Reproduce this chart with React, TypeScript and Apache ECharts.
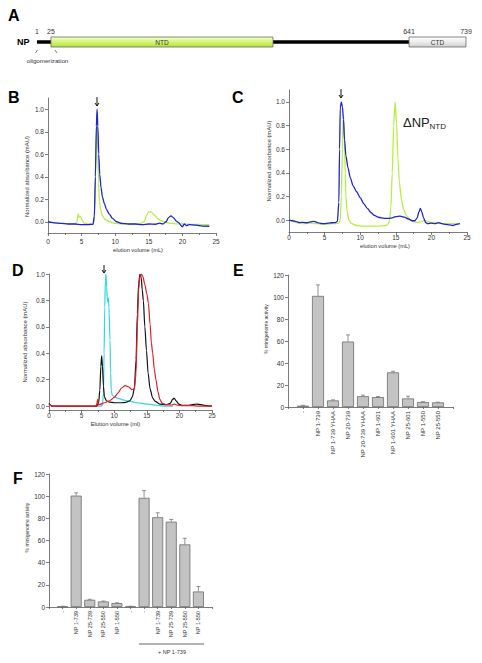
import React, { useEffect, useRef } from 'react';
import * as echarts from 'echarts';

const FONT = "'Liberation Sans', Arial, Helvetica, sans-serif";
const AXIS_COLOR = '#5a5a5a';
const LABEL_COLOR = '#333333';
const BLUE = '#1f22d8';
const GREEN = '#b6ef3e';
const CYAN = '#2fd8e2';
const RED = '#e31c26';
const BLACK = '#111111';
const BAR_FILL = '#c3c3c3';
const BAR_EDGE = '#6c6c6c';

// ---------- Panel A : NP domain map ----------
const npResidueTicks = [1, 25, 641, 739];
const npBackbone = [[1, 0.5], [641, 0.5]];
const npDomainNames = ['NTD', 'CTD'];
const npDomainStart = [25, 641];
const npDomainEnd = [407, 739];

// ---------- Panel B ----------
const bBlue = [[0,0.0],[0.5,-0.005],[1,-0.01],[2,-0.015],[3,-0.02],[4,-0.02],[5,-0.025],[6,-0.025],[6.7,-0.022],[6.9,0.05],[7.05,0.4],[7.2,0.85],[7.3,1.0],[7.42,0.85],[7.55,0.6],[7.7,0.42],[7.9,0.3],[8.1,0.22],[8.4,0.16],[8.7,0.11],[9.1,0.07],[9.6,0.03],[10.2,0.0],[11,-0.015],[12,-0.02],[13,-0.02],[14,-0.025],[15,-0.02],[16,-0.022],[16.6,-0.012],[17.1,-0.02],[17.6,0.0],[17.9,0.035],[18.3,0.052],[18.7,0.035],[19.1,0.005],[19.5,-0.01],[19.8,-0.035],[20.0,-0.045],[20.3,-0.02],[20.6,-0.035],[21,-0.025],[22,-0.03],[23,-0.038],[24,-0.04]];
const bGreen = [[0,0.0],[1,-0.01],[2,-0.015],[3,-0.018],[4,-0.02],[4.3,-0.005],[4.5,0.07],[4.65,0.04],[4.85,0.045],[5.1,0.01],[5.4,-0.015],[6,-0.02],[6.8,-0.02],[6.95,0.1],[7.1,0.5],[7.22,0.88],[7.32,0.93],[7.42,0.6],[7.52,0.35],[7.65,0.18],[7.85,0.1],[8.1,0.05],[8.5,0.02],[9.2,0.0],[10,-0.015],[11,-0.02],[12,-0.02],[13,-0.02],[13.8,-0.015],[14.3,0.0],[14.7,0.06],[15.0,0.09],[15.4,0.085],[15.8,0.06],[16.3,0.03],[16.8,0.01],[17.3,0.0],[18,-0.012],[19,-0.018],[20,-0.02],[21,-0.022],[22,-0.024],[23,-0.025],[24,-0.025]];

// ---------- Panel C ----------
const cBlue = [[0,0.0],[0.5,-0.005],[1,-0.012],[1.5,-0.02],[2,-0.018],[2.5,-0.022],[3,-0.015],[3.5,-0.01],[4,-0.02],[4.5,-0.028],[5,-0.03],[5.5,-0.025],[6,-0.022],[6.5,-0.02],[6.8,-0.01],[7.0,0.15],[7.1,0.6],[7.2,0.95],[7.35,1.0],[7.5,0.96],[7.65,0.85],[7.8,0.68],[8.0,0.54],[8.3,0.44],[8.6,0.36],[9.0,0.29],[9.5,0.24],[10,0.19],[10.5,0.14],[11,0.1],[11.5,0.065],[12,0.04],[12.5,0.025],[13,0.02],[13.5,0.015],[14,0.015],[14.5,0.02],[15,0.03],[15.6,0.035],[16.2,0.025],[16.8,0.01],[17.3,-0.005],[17.7,-0.005],[18.0,0.02],[18.25,0.07],[18.45,0.1],[18.65,0.07],[18.9,0.02],[19.2,-0.02],[19.5,-0.03],[20,-0.025],[20.5,-0.03],[21,-0.02],[21.5,-0.03],[22,-0.035],[22.5,-0.04],[23,-0.045],[23.5,-0.035],[24,-0.03]];
const cGreen = [[0,0.0],[0.5,-0.01],[1,-0.02],[1.5,-0.025],[2,-0.03],[3,-0.025],[3.5,-0.03],[4,-0.03],[5,-0.035],[6,-0.03],[6.5,-0.03],[7.0,-0.025],[7.2,0.0],[7.35,0.2],[7.5,0.6],[7.6,0.85],[7.7,0.88],[7.8,0.65],[7.9,0.4],[8.0,0.2],[8.15,0.08],[8.4,0.0],[8.8,-0.03],[9.5,-0.045],[10.5,-0.05],[11.5,-0.05],[12.5,-0.05],[13.3,-0.048],[13.8,-0.04],[14.1,-0.01],[14.3,0.1],[14.5,0.4],[14.7,0.8],[14.9,1.0],[15.1,0.82],[15.3,0.52],[15.5,0.32],[15.8,0.17],[16.1,0.09],[16.5,0.04],[17,0.0],[17.5,-0.015],[18,-0.02],[18.5,-0.015],[19,0.0],[19.5,-0.01],[20,-0.02],[21,-0.025],[22,-0.03],[23,-0.03],[24,-0.03]];

// ---------- Panel D ----------
const dCyan = [[7.0,0.0],[8.0,0.0],[8.2,0.01],[8.35,0.1],[8.45,0.4],[8.55,0.75],[8.65,0.95],[8.74,1.0],[8.84,0.9],[8.94,0.8],[9.02,0.79],[9.1,0.82],[9.2,0.75],[9.35,0.5],[9.45,0.25],[9.55,0.12],[9.7,0.08],[10.5,0.06],[11.5,0.045],[12.5,0.035],[13.5,0.025],[14.5,0.018],[15.5,0.012],[16.5,0.006],[17.5,0.0],[19,0.0]];
const dBlack = [[0,0.02],[0.15,0.01],[0.4,0.0],[3,0.0],[7.3,0.0],[7.6,0.02],[7.8,0.12],[7.95,0.3],[8.08,0.38],[8.2,0.3],[8.35,0.15],[8.5,0.07],[8.8,0.04],[9.3,0.03],[10,0.025],[11,0.025],[11.8,0.028],[12.4,0.04],[12.8,0.07],[13.1,0.14],[13.35,0.35],[13.55,0.7],[13.75,0.93],[13.95,1.0],[14.15,0.97],[14.3,0.88],[14.47,0.8],[14.7,0.6],[14.95,0.42],[15.2,0.25],[15.5,0.13],[15.9,0.06],[16.3,0.035],[17,0.015],[18,0.01],[18.6,0.02],[18.95,0.05],[19.2,0.06],[19.5,0.04],[19.9,0.015],[20.5,0.005],[21.5,0.005],[22.2,0.012],[22.7,0.015],[23.3,0.01],[24,0.003],[25,0.0]];
const dRed = [[0,0.015],[0.2,0.005],[0.5,0.0],[7.2,0.0],[7.35,0.02],[7.45,0.05],[7.55,0.01],[7.8,0.012],[8.5,0.025],[9.3,0.04],[10,0.065],[10.6,0.1],[11.1,0.135],[11.7,0.155],[12.2,0.145],[12.7,0.125],[13.1,0.13],[13.35,0.25],[13.55,0.6],[13.75,0.88],[13.95,0.98],[14.15,1.0],[14.4,0.98],[14.7,0.92],[15.0,0.85],[15.25,0.78],[15.5,0.62],[15.7,0.48],[15.9,0.4],[16.15,0.28],[16.4,0.2],[16.7,0.11],[17.0,0.05],[17.4,0.02],[18,0.01],[18.8,0.008],[19.2,0.015],[19.6,0.008],[20.5,0.003],[22,0.003],[23,0.0],[25,0.0]];

// ---------- Panel E ----------
const eLabels = ['-', 'NP 1-739', 'NP 1-739 YHAA', 'NP 20-739', 'NP 20-739 YHAA', 'NP 1-601', 'NP 1-601 YHAA', 'NP 25-601', 'NP 1-550', 'NP 25-550'];
const eValues = [1.2, 101, 6, 59.5, 9.8, 9, 31.5, 7.8, 4.5, 4.2];
const eErrors = [0.3, 10, 0.5, 6, 1, 0.5, 1, 2, 0.3, 0.2];

// ---------- Panel F ----------
const fLabels = ['-', 'NP 1-739', 'NP 25-739', 'NP 25-550', 'NP 1-550', '-', '-', 'NP 1-739', 'NP 25-739', 'NP 25-550', 'NP 1-550'];
const fValues = [0.5, 100.5, 6.5, 5, 3.5, 0.5, 98.5, 81, 77, 56.5, 14];
const fErrors = [0.2, 2.5, 0.4, 0.4, 0.3, 0.2, 6.5, 4, 2, 5.5, 4.5];
const fGroupLabel = '+ NP 1-739';

const absTicks = [0, 0.2, 0.4, 0.6, 0.8, 1.0];

const axisLine = { show: true, onZero: false, lineStyle: { color: AXIS_COLOR, width: 0.8 } };
const axisTick = (len: number) => ({ show: true, length: len, lineStyle: { color: AXIS_COLOR, width: 0.8 } });

function elutionX(grid: number, name: string, margin: number, nameGap: number, pad: number[], fs: number) {
  return {
    gridIndex: grid, type: 'value', min: 0, max: 25, interval: 5,
    axisLine, axisTick: axisTick(3),
    minorTick: { show: true, splitNumber: 2, length: 2, lineStyle: { color: AXIS_COLOR, width: 0.8 } },
    axisLabel: { fontSize: 6.5, color: LABEL_COLOR, margin, fontFamily: FONT },
    splitLine: { show: false },
    name, nameLocation: 'middle', nameGap,
    nameTextStyle: { fontSize: fs, color: LABEL_COLOR, fontFamily: FONT, padding: pad },
  };
}

function absY(grid: number, min: number, max: number, nameGap: number, pad: number[]) {
  return {
    gridIndex: grid, type: 'value', min, max,
    axisLine, axisTick: { ...axisTick(3), customValues: absTicks },
    axisLabel: { customValues: absTicks, formatter: (v: number) => v.toFixed(1), fontSize: 6.5, color: LABEL_COLOR, margin: 4, fontFamily: FONT },
    splitLine: { show: false },
    name: 'Normalized absorbance (mAU)', nameLocation: 'middle', nameGap,
    nameTextStyle: { fontSize: 5.9, color: LABEL_COLOR, fontFamily: FONT, padding: pad },
  };
}

function activityY(grid: number, pad: number[]) {
  return {
    gridIndex: grid, type: 'value', min: 0, max: 120, interval: 20,
    axisLine, axisTick: axisTick(3),
    axisLabel: { fontSize: 6.5, color: LABEL_COLOR, margin: 4, fontFamily: FONT },
    splitLine: { show: false },
    name: '% minigenome activity', nameLocation: 'middle', nameGap: 20,
    nameTextStyle: { fontSize: 5, color: LABEL_COLOR, fontFamily: FONT, padding: pad },
  };
}

function categoryX(grid: number, labels: string[], fs: number) {
  const data = ['', ...labels, ''].map((_, i) => 'c' + i);
  return {
    gridIndex: grid, type: 'category', data, boundaryGap: false,
    axisLine, axisTick: { ...axisTick(2), interval: 0 },
    axisLabel: {
      interval: 0, rotate: 90, fontSize: fs, color: LABEL_COLOR, margin: 4, fontFamily: FONT,
      formatter: (_v: string, i: number) => (i >= 1 && i <= labels.length ? labels[i - 1] : ''),
    },
    splitLine: { show: false },
  };
}

function errorSeries(xi: number, values: number[], errors: number[]) {
  return {
    type: 'custom', xAxisIndex: xi, yAxisIndex: xi, z: 5,
    data: values.map((v, i) => [i + 1, v, v + errors[i]]),
    renderItem: (_p: any, api: any) => {
      const base = api.coord([api.value(0), api.value(1)]);
      const top = api.coord([api.value(0), api.value(2)]);
      const st = { stroke: '#777777', lineWidth: 0.8 };
      return {
        type: 'group',
        children: [
          { type: 'line', shape: { x1: base[0], y1: base[1], x2: base[0], y2: top[1] }, style: st },
          { type: 'line', shape: { x1: base[0] - 2, y1: top[1], x2: base[0] + 2, y2: top[1] }, style: st },
        ],
      };
    },
  };
}

function barSeries(xi: number, values: number[], width: number) {
  return {
    type: 'bar', xAxisIndex: xi, yAxisIndex: xi, barWidth: width,
    data: values.map((v, i) => [i + 1, v]),
    itemStyle: { color: BAR_FILL, borderColor: BAR_EDGE, borderWidth: 0.8 },
  };
}

function curve(xi: number, data: number[][], color: string, width: number) {
  return {
    type: 'line', xAxisIndex: xi, yAxisIndex: xi, data, showSymbol: false, symbol: 'none',
    smooth: 0.25, smoothMonotone: 'x',
    lineStyle: { color, width },
  };
}

function arrow(x: number, y1: number, y2: number) {
  const st = { stroke: '#111', lineWidth: 1 };
  return {
    type: 'group',
    children: [
      { type: 'line', shape: { x1: x, y1, x2: x, y2 }, style: st },
      { type: 'polyline', shape: { points: [[x - 2, y2 - 3], [x, y2], [x + 2, y2 - 3]] }, style: { ...st, fill: 'none' } },
    ],
  };
}

function panelLetter(t: string, x: number, y: number) {
  return { type: 'text', x, y, style: { text: t, fontSize: 16, fontWeight: 'bold', fill: '#000', fontFamily: FONT, verticalAlign: 'top' } };
}

function buildOption(): any {
  const grids = [
    { left: 37, top: 37, width: 429, height: 10 },
    { left: 48, top: 98, width: 168, height: 135 },
    { left: 289, top: 90, width: 178, height: 142 },
    { left: 49, top: 274, width: 163, height: 136 },
    { left: 288, top: 275, width: 165, height: 132 },
    { left: 49, top: 474, width: 163, height: 133 },
  ].map((g) => ({ ...g, containLabel: false, outerBoundsMode: 'none' }));

  const xAxis = [
    {
      gridIndex: 0, type: 'value', min: 1, max: 739, position: 'top',
      axisLine: { show: false }, axisTick: { show: false }, splitLine: { show: false },
      axisLabel: { customValues: npResidueTicks, fontSize: 7, color: LABEL_COLOR, margin: 2, fontFamily: FONT, showMinLabel: true, showMaxLabel: true },
    },
    elutionX(1, 'elution volume (mL)', 5, 14, [0, 0, 0, 12], 5.7),
    elutionX(2, 'elution volume (mL)', 2, 11, [0, 0, 0, 14], 5.7),
    elutionX(3, 'Elution volume (ml)', 2, 11, [0, 30, 0, 0], 5.8),
    categoryX(4, eLabels, 6),
    categoryX(5, fLabels, 5.5),
  ];

  const yAxis = [
    { gridIndex: 0, type: 'value', min: 0, max: 1, show: false },
    absY(1, -0.1, 1.1, 18, [0, 22, 0, 0]),
    absY(2, -0.1, 1.1, 17, [0, 0, 0, 0]),
    absY(3, -0.03, 1.0, 21, [0, 0, 0, 0]),
    activityY(4, [0, 0, 0, 24]),
    activityY(5, [0, 0, 0, 26]),
  ];

  const domainFill = [
    new echarts.graphic.LinearGradient(0, 0, 0, 1, [
      { offset: 0, color: '#f4ffd6' }, { offset: 0.45, color: '#d6f77a' }, { offset: 1, color: '#b2e23a' },
    ]),
    new echarts.graphic.LinearGradient(0, 0, 0, 1, [
      { offset: 0, color: '#ffffff' }, { offset: 0.5, color: '#ececec' }, { offset: 1, color: '#cfcfcf' },
    ]),
  ];

  const series: any[] = [
    {
      type: 'line', xAxisIndex: 0, yAxisIndex: 0, data: npBackbone, showSymbol: false, symbol: 'none',
      lineStyle: { color: '#000', width: 3.3 }, z: 1,
    },
    {
      type: 'custom', xAxisIndex: 0, yAxisIndex: 0, z: 3,
      data: npDomainStart.map((s, i) => [s, npDomainEnd[i]]),
      renderItem: (params: any, api: any) => {
        const i = params.dataIndex;
        const a = api.coord([api.value(0), 1]);
        const b = api.coord([api.value(1), 0]);
        return {
          type: 'group',
          children: [
            { type: 'rect', shape: { x: a[0], y: a[1], width: b[0] - a[0], height: b[1] - a[1] },
              style: { fill: domainFill[i], stroke: '#6a6a6a', lineWidth: 0.8 } },
            { type: 'text', x: (a[0] + b[0]) / 2, y: (a[1] + b[1]) / 2,
              style: { text: npDomainNames[i], fontSize: 6.5, fill: '#333', align: 'center', verticalAlign: 'middle', fontFamily: FONT } },
          ],
        };
      },
    },
    curve(1, bGreen, GREEN, 1.3),
    curve(1, bBlue, BLUE, 1.3),
    curve(2, cGreen, GREEN, 1.3),
    curve(2, cBlue, BLUE, 1.3),
    curve(3, dCyan, CYAN, 1.2),
    curve(3, dBlack, BLACK, 1.2),
    curve(3, dRed, RED, 1.2),
    barSeries(4, eValues, 12),
    errorSeries(4, eValues, eErrors),
    barSeries(5, fValues, 11),
    errorSeries(5, fValues, fErrors),
  ];

  const graphic: any[] = [
    panelLetter('A', 8, 7),
    panelLetter('B', 8, 89),
    panelLetter('C', 232, 89),
    panelLetter('D', 12, 262),
    panelLetter('E', 233, 262),
    panelLetter('F', 13, 470),
    { type: 'text', x: 17, y: 42, style: { text: 'NP', fontSize: 9, fontWeight: 'bold', fill: '#000', fontFamily: FONT, verticalAlign: 'middle' } },
    { type: 'line', shape: { x1: 37.5, y1: 50, x2: 35.5, y2: 53 }, style: { stroke: '#444', lineWidth: 0.7 } },
    { type: 'line', shape: { x1: 55, y1: 50, x2: 57, y2: 53 }, style: { stroke: '#444', lineWidth: 0.7 } },
    { type: 'text', x: 47.5, y: 60, style: { text: 'oligomerization', fontSize: 6.2, fill: '#333', align: 'center', verticalAlign: 'middle', fontFamily: FONT } },
    arrow(97, 97, 106),
    arrow(341, 89, 98),
    arrow(104, 265, 273),
    { type: 'text', x: 403, y: 122, style: { text: 'ΔNP', fontSize: 13, fill: '#222', verticalAlign: 'middle', fontFamily: FONT } },
    { type: 'text', x: 429.5, y: 126.5, style: { text: 'NTD', fontSize: 8, fill: '#222', verticalAlign: 'middle', fontFamily: FONT } },
    { type: 'line', shape: { x1: 139, y1: 644, x2: 204, y2: 644 }, style: { stroke: '#9a9a9a', lineWidth: 1.4 } },
    { type: 'text', x: 172, y: 652, style: { text: fGroupLabel, fontSize: 5.5, fill: '#333', align: 'center', verticalAlign: 'middle', fontFamily: FONT } },
  ];

  return {
    animation: false,
    backgroundColor: '#ffffff',
    textStyle: { fontFamily: FONT },
    grid: grids,
    xAxis,
    yAxis,
    series,
    graphic,
  };
}

export default function App() {
  const ref = useRef<HTMLDivElement>(null);
  useEffect(() => {
    if (!ref.current) return;
    const chart = echarts.init(ref.current, undefined, { renderer: 'svg' });
    chart.setOption(buildOption());
    return () => chart.dispose();
  }, []);
  return (
    <div
      ref={ref}
      style={{ position: 'absolute', left: 0, top: 0, width: 482, height: 663, background: '#fff' }}
    />
  );
}
